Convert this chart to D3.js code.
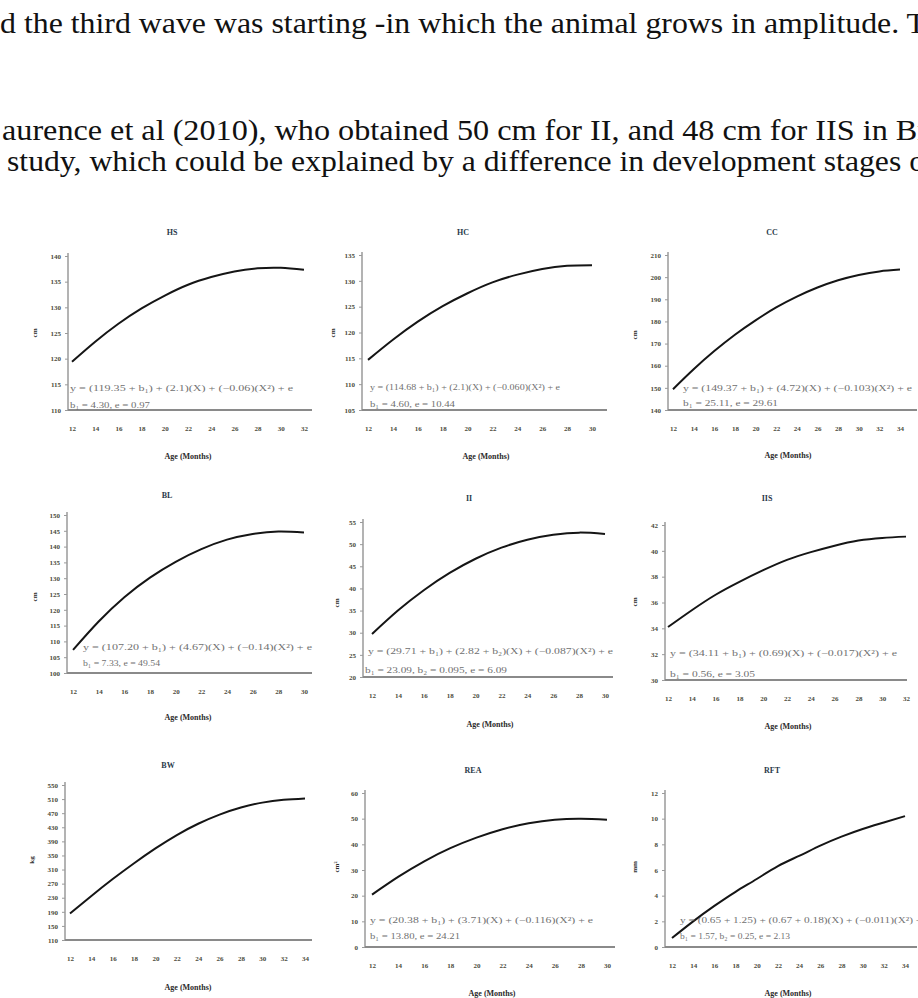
<!DOCTYPE html>
<html><head><meta charset="utf-8">
<script src="https://cdn.jsdelivr.net/npm/d3@7"></script>
<style>html,body{margin:0;padding:0;background:#fff;overflow:hidden}</style>
</head><body>
<svg id="c" width="918" height="998"></svg>
<script>
// ---------- data ----------
const paraLines = [
  "d the third wave was starting -in which the animal grows in amplitude. T",
  "aurence et al (2010), who obtained 50 cm for II, and 48 cm for IIS in Br",
  "study, which could be explained by a difference in development stages o"
];
const panelTitles = ["HS", "HC", "CC", "BL", "II", "IIS", "BW", "REA", "RFT"];
const unitLabels  = ["cm", "cm", "cm", "cm", "cm", "cm", "kg", "cm²", "mm"];
const xAxisTitle = "Age (Months)";

const months12to30 = [12, 14, 16, 18, 20, 22, 24, 26, 28, 30];
const months12to32 = [12, 14, 16, 18, 20, 22, 24, 26, 28, 30, 32];
const months12to34 = [12, 14, 16, 18, 20, 22, 24, 26, 28, 30, 32, 34];

const hsValues  = [119.4, 123.3, 126.8, 129.8, 132.3, 134.4, 135.9, 137.0, 137.6, 137.7, 137.3];
const hcValues  = [114.7, 118.6, 122.1, 125.1, 127.6, 129.7, 131.2, 132.3, 132.9, 133.0];
const ccValues  = [149.4, 158.4, 166.6, 174.0, 180.5, 186.3, 191.2, 195.3, 198.6, 201.0, 202.6, 203.4];
const blValues  = [107.3, 116.3, 124.0, 130.2, 135.2, 139.2, 142.2, 144.0, 144.8, 144.5];
const iiValues  = [29.7, 35.0, 39.6, 43.5, 46.7, 49.2, 51.0, 52.1, 52.6, 52.3];
const iisValues = [34.1, 35.4, 36.6, 37.6, 38.5, 39.3, 39.9, 40.4, 40.8, 41.0, 41.1];
const bwValues  = [185, 235, 283, 328, 370, 408, 440, 466, 486, 500, 508, 512];
const reaValues = [20.4, 27.3, 33.4, 38.5, 42.6, 45.9, 48.2, 49.6, 50.0, 49.6];
const rftValues = [0.7, 2.0, 3.2, 4.3, 5.3, 6.3, 7.1, 7.9, 8.6, 9.2, 9.7, 10.2];

const hsTicks  = [110, 115, 120, 125, 130, 135, 140];
const hcTicks  = [105, 110, 115, 120, 125, 130, 135];
const ccTicks  = [140, 150, 160, 170, 180, 190, 200, 210];
const blTicks  = [100, 105, 110, 115, 120, 125, 130, 135, 140, 145, 150];
const iiTicks  = [20, 25, 30, 35, 40, 45, 50, 55];
const iisTicks = [30, 32, 34, 36, 38, 40, 42];
const bwTicks  = [110, 150, 190, 230, 270, 310, 350, 390, 430, 470, 510, 550];
const reaTicks = [0, 10, 20, 30, 40, 50, 60];
const rftTicks = [0, 2, 4, 6, 8, 10, 12];

const eqLine1 = [
  "y  = (119.35 + b₁) + (2.1)(X) + (−0.06)(X²) + e",
  "y  = (114.68 + b₁) + (2.1)(X) + (−0.060)(X²) + e",
  "y  = (149.37 + b₁) + (4.72)(X) + (−0.103)(X²) + e",
  "y  = (107.20 + b₁) + (4.67)(X) + (−0.14)(X²) + e",
  "y  = (29.71 + b₁) + (2.82 + b₂)(X) + (−0.087)(X²) + e",
  "y  = (34.11 + b₁) + (0.69)(X) + (−0.017)(X²) + e",
  "",
  "y  = (20.38 + b₁) + (3.71)(X) + (−0.116)(X²) + e",
  "y  = (0.65 + 1.25) + (0.67 + 0.18)(X) + (−0.011)(X²) + e"
];
const eqLine2 = [
  "b₁ = 4.30, e = 0.97",
  "b₁ = 4.60, e = 10.44",
  "b₁ = 25.11, e = 29.61",
  "b₁ = 7.33, e = 49.54",
  "b₁ = 23.09, b₂ = 0.095, e = 6.09",
  "b₁ = 0.56, e = 3.05",
  "",
  "b₁ = 13.80, e = 24.21",
  "b₁ = 1.57, b₂ = 0.25, e = 2.13"
];

// ---------- layout (positions only) ----------
const layout = [
  {tx:172, ty:232, ax:68,  axEnd:312, ay:410, yTop:256, x0:72,  x1:304, yl:[35,333],  age:[188,456], e1:[70,391,223],  e2:[70,408,80]},
  {tx:463, ty:232, ax:362, axEnd:607, ay:410, yTop:255, x0:368, x1:592, yl:[333,333], age:[486,456], e1:[370,390,190], e2:[370,407,85]},
  {tx:772, ty:232, ax:668, axEnd:917, ay:410, yTop:255, x0:673, x1:900, yl:[635,335], age:[788,455], e1:[683,391,229], e2:[683,406,95]},
  {tx:167, ty:495, ax:67,  axEnd:312, ay:673, yTop:515, x0:73,  x1:304, yl:[35,597],  age:[188,717], e1:[83,650,229],  e2:[83,666,77]},
  {tx:469, ty:498, ax:363, axEnd:613, ay:677, yTop:522, x0:372, x1:605, yl:[337,603], age:[490,724], e1:[368,654,245], e2:[365,673,142]},
  {tx:767, ty:498, ax:665, axEnd:907, ay:680, yTop:525, x0:668, x1:906, yl:[635,602], age:[788,726], e1:[670,656,227], e2:[670,677,85]},
  {tx:168, ty:765, ax:65,  axEnd:312, ay:940, yTop:785, x0:70,  x1:305, yl:[32,860],  age:[188,987], e1:null, e2:null},
  {tx:473, ty:770, ax:365, axEnd:615, ay:947, yTop:793, x0:372, x1:607, yl:[337,867], age:[492,993], e1:[370,923,223], e2:[370,939,90]},
  {tx:772, ty:770, ax:665, axEnd:917, ay:947, yTop:793, x0:672, x1:905, yl:[635,867], age:[788,993], e1:[680,923,250], e2:[680,939,110]}
];

const panelMonths = [months12to32, months12to30, months12to34, months12to30, months12to30, months12to32, months12to34, months12to30, months12to34];
const panelValues = [hsValues, hcValues, ccValues, blValues, iiValues, iisValues, bwValues, reaValues, rftValues];
const panelTicks  = [hsTicks, hcTicks, ccTicks, blTicks, iiTicks, iisTicks, bwTicks, reaTicks, rftTicks];

// ---------- drawing ----------
const svg = d3.select("#c");
const serif = "Liberation Serif, Times New Roman, serif";
svg.append("rect").attr("width", 918).attr("height", 998).attr("fill", "#fff");

const paraPos = [[0, 33, 926], [2, 140, 926], [7, 171, 918]];
paraLines.forEach((t, i) => {
  svg.append("text")
    .attr("x", paraPos[i][0]).attr("y", paraPos[i][1])
    .attr("textLength", paraPos[i][2]).attr("lengthAdjust", "spacingAndGlyphs")
    .attr("font-family", serif).attr("font-size", 29).attr("fill", "#111")
    .text(t);
});

panelTitles.forEach((title, i) => {
  const L = layout[i];
  const months = panelMonths[i], vals = panelValues[i], ticks = panelTicks[i];
  const g = svg.append("g");
  const x = d3.scaleLinear().domain([months[0], months[months.length - 1]]).range([L.x0, L.x1]);
  const y = d3.scaleLinear().domain([ticks[0], ticks[ticks.length - 1]]).range([L.ay, L.yTop]);

  // title
  g.append("text").attr("x", L.tx).attr("y", L.ty + 3).attr("text-anchor", "middle")
    .attr("font-family", serif).attr("font-size", 8).attr("font-weight", "bold")
    .attr("fill", "#2a3a4a").text(title);

  // y axis
  const yAxis = g.append("g").attr("transform", `translate(${L.ax},0)`)
    .call(d3.axisLeft(y).tickValues(ticks).tickSize(3).tickSizeOuter(0).tickPadding(4));
  yAxis.attr("font-family", serif).attr("font-size", 7);
  yAxis.select(".domain").attr("stroke", "#9a9a9a").attr("stroke-width", 1.5)
    .attr("d", `M0,${L.ay}V${L.yTop - 3}`);
  yAxis.selectAll(".tick line").attr("stroke", "#9a9a9a");
  yAxis.selectAll("text").attr("font-weight", "bold").attr("fill", "#4a4a3a");

  // x axis baseline
  g.append("line").attr("x1", L.ax).attr("x2", L.axEnd).attr("y1", L.ay).attr("y2", L.ay)
    .attr("stroke", "#8a8a8a").attr("stroke-width", 2);
  const xAxis = g.append("g").attr("transform", `translate(0,${L.ay})`)
    .call(d3.axisBottom(x).tickValues(months).tickSize(0).tickPadding(16).tickFormat(d3.format("d")));
  xAxis.attr("font-family", serif).attr("font-size", 7);
  xAxis.select(".domain").remove();
  xAxis.selectAll("text").attr("font-weight", "bold").attr("fill", "#4a4a3a");

  // axis titles
  g.append("text").attr("x", L.age[0]).attr("y", L.age[1] + 3).attr("text-anchor", "middle")
    .attr("font-family", serif).attr("font-size", 8).attr("font-weight", "bold")
    .attr("fill", "#2a2a2a").text(xAxisTitle);
  g.append("text").attr("transform", `translate(${L.yl[0] + 2},${L.yl[1]}) rotate(-90)`)
    .attr("text-anchor", "middle")
    .attr("font-family", serif).attr("font-size", 7).attr("font-weight", "bold")
    .attr("fill", "#2a2a2a").text(unitLabels[i]);

  // curve
  const pts = months.map((m, k) => ({m, v: vals[k]}));
  g.append("path").datum(pts)
    .attr("fill", "none").attr("stroke", "#151515").attr("stroke-width", 2)
    .attr("d", d3.line().x(d => x(d.m)).y(d => y(d.v)).curve(d3.curveNatural));

  // equations
  if (L.e1 && eqLine1[i]) {
    g.append("text").attr("x", L.e1[0]).attr("y", L.e1[1])
      .attr("textLength", L.e1[2]).attr("lengthAdjust", "spacingAndGlyphs")
      .attr("font-family", serif).attr("font-size", 9).attr("fill", "#707070")
      .text(eqLine1[i]);
    g.append("text").attr("x", L.e2[0]).attr("y", L.e2[1])
      .attr("textLength", L.e2[2]).attr("lengthAdjust", "spacingAndGlyphs")
      .attr("font-family", serif).attr("font-size", 9).attr("fill", "#707070")
      .text(eqLine2[i]);
  }
});
</script>
</body></html>
